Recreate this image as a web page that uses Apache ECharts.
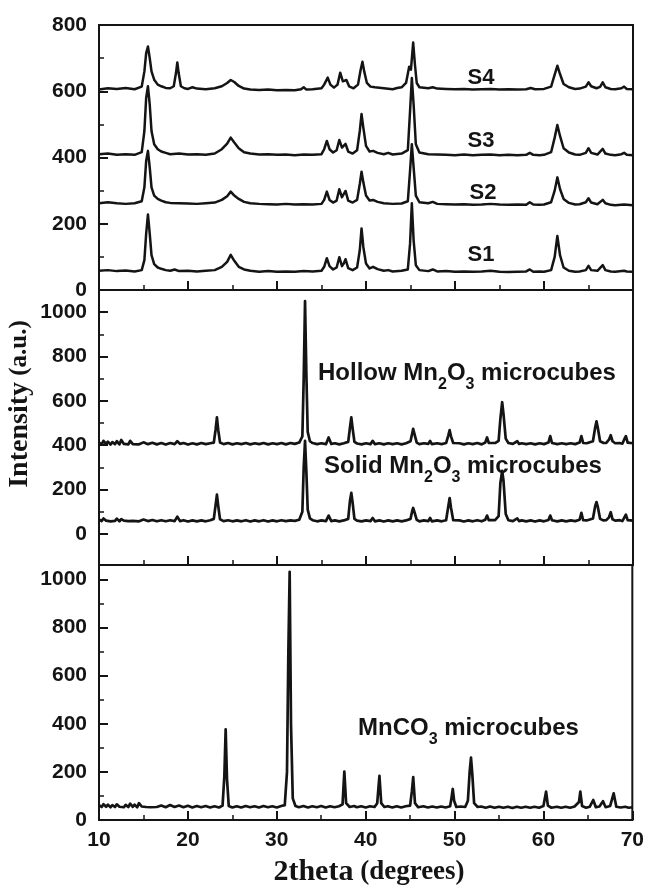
<!DOCTYPE html>
<html><head><meta charset="utf-8">
<script src="https://cdn.jsdelivr.net/npm/echarts@6/dist/echarts.min.js"></script>
<style>html,body{margin:0;padding:0;background:#fff}#c{width:647px;height:888px}</style>
</head><body><div id="c"></div>
<script>
// ---- data: [2theta, intensity] ----
const s1 = [[10,58],[11,60],[12,57],[13,59],[14,56],[14.8,60],[15.1,90],[15.3,170],[15.5,228],[15.7,170],[15.9,105],[16.2,78],[16.6,68],[17,64],[17.5,60],[18,58],[18.5,62],[19,57],[20,58],[21,56],[22,58],[23,60],[23.8,70],[24.4,85],[24.8,106],[25.2,88],[25.7,70],[26.3,62],[27,58],[28,55],[29,57],[30,55],[31,56],[32,55],[33,57],[34,56],[35,58],[35.3,70],[35.6,96],[35.9,72],[36.3,62],[36.7,68],[37.0,99],[37.3,72],[37.5,80],[37.7,93],[38.0,66],[38.5,60],[39.0,68],[39.3,120],[39.5,186],[39.7,130],[40.0,80],[40.4,65],[40.8,70],[41.0,74],[41.3,63],[42,58],[42.5,60],[43,56],[44,58],[44.7,62],[44.95,140],[45.15,262],[45.35,150],[45.6,75],[46,60],[47,57],[47.5,62],[48,56],[49,57],[50,55],[51,56],[52,55],[53,56],[54,58],[55,55],[56,54],[57,55],[58,56],[58.4,62],[58.8,55],[59.5,56],[60,55],[60.8,60],[61.2,100],[61.5,163],[61.8,105],[62.2,68],[62.8,58],[63.5,55],[64,56],[64.7,60],[65.0,73],[65.3,60],[66,58],[66.6,75],[66.9,60],[67.5,56],[68,55],[69,58],[69.3,56],[70,55]];
const s2 = [[10,262],[11,265],[12,262],[13,260],[14,262],[14.8,268],[15.1,310],[15.3,390],[15.5,420],[15.7,370],[15.9,310],[16.2,285],[16.6,275],[17,270],[17.5,265],[18,263],[19,262],[20,261],[21,260],[22,262],[23,264],[23.8,272],[24.4,283],[24.8,297],[25.2,285],[25.7,275],[26.3,266],[27,262],[28,260],[29,259],[30,258],[31,260],[32,258],[33,259],[34,258],[35,260],[35.3,272],[35.6,297],[35.9,272],[36.3,264],[36.7,270],[37.0,304],[37.3,280],[37.5,285],[37.7,299],[38.0,270],[38.5,264],[39.0,272],[39.3,320],[39.5,357],[39.7,325],[40.0,285],[40.4,270],[40.8,272],[41.0,277],[41.3,266],[42,262],[43,260],[44,261],[44.7,268],[44.95,360],[45.15,440],[45.35,370],[45.6,285],[46,265],[47,262],[47.5,266],[48,260],[49,259],[50,258],[51,259],[52,257],[53,258],[54,260],[55,258],[56,257],[57,258],[58,257],[58.4,265],[58.8,258],[59.5,257],[60,258],[60.8,265],[61.2,300],[61.5,340],[61.8,305],[62.2,275],[62.8,263],[63.5,258],[64,259],[64.7,265],[65.0,277],[65.3,264],[66,259],[66.6,272],[66.9,262],[67.5,257],[68,256],[69,258],[70,256]];
const s3 = [[10,410],[11,412],[12,408],[13,410],[14,408],[14.8,416],[15.1,480],[15.3,580],[15.5,615],[15.7,560],[15.9,480],[16.2,440],[16.6,425],[17,418],[17.5,414],[18,410],[19,412],[20,409],[21,410],[22,408],[23,412],[23.8,425],[24.4,442],[24.8,460],[25.2,445],[25.7,428],[26.3,416],[27,412],[28,409],[29,410],[30,408],[31,409],[32,407],[33,409],[34,408],[35,410],[35.3,425],[35.6,450],[35.9,425],[36.3,415],[36.7,422],[37.0,453],[37.3,430],[37.5,432],[37.7,441],[38.0,418],[38.5,412],[39.0,422],[39.3,480],[39.5,531],[39.7,490],[40.0,435],[40.4,418],[40.8,420],[41.0,423],[41.3,414],[42,410],[42.5,414],[43,409],[44,412],[44.7,422],[44.95,540],[45.15,640],[45.35,560],[45.6,440],[46,415],[47,410],[48,409],[49,408],[50,407],[51,409],[52,407],[53,408],[54,409],[55,407],[56,408],[57,407],[58,408],[58.4,414],[58.8,408],[59.5,407],[60,408],[60.8,416],[61.2,460],[61.5,498],[61.8,465],[62.2,428],[62.8,415],[63.5,409],[64,408],[64.7,414],[65.0,428],[65.3,414],[66,409],[66.6,426],[66.9,412],[67.5,408],[68,407],[68.7,410],[69,414],[69.3,408],[70,407]];
const s4 = [[10,605],[11,609],[12,607],[13,610],[14,606],[14.8,614],[15.1,660],[15.3,715],[15.5,735],[15.7,700],[15.9,660],[16.2,635],[16.6,620],[17,615],[17.5,610],[18,609],[18.4,615],[18.65,655],[18.8,687],[18.95,655],[19.2,615],[19.6,609],[20,607],[20.5,612],[21,608],[22,606],[23,609],[23.8,615],[24.4,625],[24.8,634],[25.2,628],[25.7,616],[26.3,608],[27,605],[28,604],[29,605],[30,603],[31,604],[32,603],[32.7,606],[33,612],[33.3,605],[34,606],[35,609],[35.3,620],[35.7,641],[36.0,620],[36.4,611],[36.8,620],[37.1,656],[37.4,630],[37.6,630],[37.8,634],[38.1,615],[38.6,609],[39.1,620],[39.4,665],[39.6,689],[39.8,660],[40.1,625],[40.5,614],[41,612],[42,609],[43,606],[43.5,610],[44,612],[44.5,625],[44.85,674],[45.05,665],[45.3,747],[45.5,680],[45.7,625],[46,612],[47,609],[47.5,612],[48,608],[49,607],[50,606],[51,607],[52,605],[53,606],[54,607],[55,605],[56,606],[57,605],[58,606],[58.5,610],[59,606],[60,607],[60.8,614],[61.2,650],[61.5,677],[61.8,652],[62.2,622],[62.8,612],[63.5,607],[64,608],[64.7,614],[65.0,627],[65.3,615],[65.9,609],[66.3,613],[66.6,627],[66.9,612],[67.5,607],[68,606],[68.7,609],[69.0,614],[69.3,607],[70,606]];
const hollow = [[10,412],[10.3,404],[10.5,420],[10.8,406],[11,416],[11.3,403],[11.5,414],[11.8,405],[12,418],[12.3,404],[12.5,424],[12.8,406],[13,415],[13.3,404],[13.5,420],[13.8,405],[14,412],[14.5,404],[15,413],[15.5,405],[16,411],[16.5,404],[17,410],[17.5,403],[18,410],[18.5,405],[18.8,418],[19.1,406],[19.5,410],[20,403],[20.5,409],[21,404],[21.5,410],[22,405],[22.5,409],[22.9,412],[23.1,470],[23.25,526],[23.4,468],[23.6,412],[24,405],[24.5,410],[25,404],[25.5,409],[26,405],[26.5,410],[27,404],[27.5,409],[28,405],[28.5,410],[29,404],[29.5,409],[30,405],[30.5,410],[31,404],[31.5,410],[32,406],[32.5,412],[32.85,440],[33.0,700],[33.15,1050],[33.3,720],[33.45,460],[33.7,418],[34,410],[34.5,405],[35,409],[35.5,405],[35.8,435],[36.1,406],[36.5,409],[37,404],[37.5,409],[38.0,415],[38.2,480],[38.35,526],[38.5,475],[38.7,415],[39,408],[39.5,404],[40,409],[40.5,405],[40.75,420],[41,405],[41.5,409],[42,404],[42.5,409],[43,405],[43.5,409],[44,404],[44.5,409],[45.0,418],[45.2,455],[45.3,474],[45.45,450],[45.7,412],[46,405],[46.5,409],[47,406],[47.2,420],[47.4,405],[48,409],[48.5,405],[49,410],[49.25,445],[49.4,468],[49.55,440],[49.8,410],[50,405],[50.5,409],[51,404],[51.5,409],[52,405],[52.5,410],[53,404],[53.4,412],[53.6,435],[53.8,410],[54,406],[54.5,410],[54.9,420],[55.1,520],[55.3,594],[55.45,540],[55.7,430],[56,410],[56.5,406],[57.0,418],[57.2,406],[57.5,409],[58,405],[58.5,409],[59,404],[59.5,409],[60,405],[60.5,412],[60.7,441],[60.9,410],[61.5,405],[62,409],[62.5,405],[63,409],[63.5,405],[64,412],[64.2,441],[64.4,410],[64.8,409],[65.5,418],[65.75,480],[65.9,508],[66.05,478],[66.3,418],[66.7,410],[67,411],[67.3,425],[67.5,445],[67.7,418],[68,409],[68.5,410],[68.8,407],[69.0,425],[69.2,441],[69.4,412],[70,409]];
const solid = [[10,65],[10.3,58],[10.5,70],[10.8,60],[11,68],[11.3,57],[11.5,66],[11.8,59],[12,69],[12.3,57],[12.5,67],[12.8,60],[13,66],[13.3,58],[13.5,67],[13.8,59],[14,64],[14.5,57],[15,65],[15.5,58],[16,63],[16.5,57],[17,62],[17.5,57],[18,62],[18.5,58],[18.8,78],[19.1,58],[19.5,62],[20,56],[20.5,61],[21,57],[21.5,61],[22,57],[22.5,62],[22.9,68],[23.1,130],[23.25,177],[23.4,125],[23.6,66],[24,58],[24.5,62],[25,57],[25.5,61],[26,57],[26.5,62],[27,56],[27.5,61],[28,57],[28.5,62],[29,56],[29.5,61],[30,57],[30.5,62],[31,58],[31.5,61],[32,59],[32.5,64],[32.85,100],[33.0,300],[33.15,420],[33.3,280],[33.45,110],[33.7,70],[34,62],[34.5,57],[35,61],[35.5,58],[35.8,83],[36.1,58],[36.5,61],[37,57],[37.5,61],[38.0,68],[38.2,150],[38.35,185],[38.5,140],[38.7,68],[39,60],[39.5,57],[40,61],[40.5,58],[40.75,72],[41,57],[41.5,61],[42,56],[42.5,61],[43,57],[43.5,61],[44,57],[44.5,61],[45.0,68],[45.2,105],[45.3,117],[45.45,98],[45.7,64],[46,57],[46.5,61],[47,58],[47.2,72],[47.4,57],[48,61],[48.5,57],[49,62],[49.25,125],[49.4,162],[49.55,118],[49.8,62],[50,57],[50.5,61],[51,56],[51.5,61],[52,57],[52.5,62],[53,57],[53.4,64],[53.6,83],[53.8,62],[54,58],[54.5,62],[54.9,80],[55.1,230],[55.3,285],[55.45,240],[55.7,90],[56,62],[56.5,58],[57.0,70],[57.2,58],[57.5,61],[58,57],[58.5,61],[59,56],[59.5,61],[60,57],[60.5,63],[60.7,83],[60.9,62],[61.5,57],[62,61],[62.5,57],[63,61],[63.5,58],[64,64],[64.2,95],[64.4,62],[64.8,61],[65.5,70],[65.75,125],[65.9,144],[66.05,122],[66.3,68],[66.7,61],[67,62],[67.3,75],[67.5,98],[67.7,66],[68,60],[68.5,62],[68.8,58],[69.0,72],[69.2,87],[69.4,62],[70,60]];
const mnco3 = [[10,62],[10.3,54],[10.5,66],[10.8,55],[11,64],[11.3,53],[11.5,62],[11.8,54],[12,65],[12.3,55],[12.5,61],[12.8,53],[13,63],[13.3,54],[13.5,68],[13.8,55],[14,64],[14.3,53],[14.5,70],[14.8,56],[15,62],[15.3,54],[15.5,60],[15.8,53],[16,61],[16.5,54],[17,60],[17.5,53],[18,62],[18.5,54],[19,60],[19.5,53],[20,59],[20.5,52],[21,58],[21.5,53],[22,58],[22.5,52],[23,57],[23.5,52],[23.9,60],[24.1,180],[24.25,377],[24.4,170],[24.6,58],[25,52],[25.5,57],[26,52],[26.5,58],[27,53],[27.5,57],[28,52],[28.5,58],[29,53],[29.5,57],[30,52],[30.5,58],[30.9,62],[31.15,200],[31.3,690],[31.45,1032],[31.6,400],[31.8,90],[32.1,58],[32.5,53],[33,58],[33.5,52],[34,57],[34.5,53],[35,58],[35.5,52],[36,57],[36.5,53],[37,57],[37.4,65],[37.6,201],[37.8,70],[38.2,54],[38.7,58],[39,53],[39.5,57],[40,52],[40.5,57],[41,54],[41.3,70],[41.55,184],[41.75,70],[42.1,54],[42.5,57],[43,52],[43.5,57],[44,52],[44.5,57],[45,60],[45.2,120],[45.35,178],[45.55,70],[45.9,53],[46.5,57],[47,52],[47.5,56],[48,52],[48.5,56],[49,52],[49.5,57],[49.65,90],[49.8,129],[49.95,80],[50.2,54],[50.7,56],[51.2,54],[51.5,80],[51.7,200],[51.85,259],[52.0,190],[52.2,70],[52.6,54],[53,56],[53.5,51],[54,56],[54.5,51],[55,55],[55.5,51],[56,55],[56.5,50],[57,55],[57.5,51],[58,55],[58.5,51],[59,55],[59.5,51],[60,58],[60.3,118],[60.5,60],[60.9,51],[61.5,55],[62,51],[62.5,55],[63,51],[63.5,56],[64.0,75],[64.15,118],[64.35,58],[64.8,51],[65.2,55],[65.6,83],[65.9,53],[66.3,56],[66.7,78],[67.0,53],[67.5,58],[67.9,111],[68.2,55],[68.7,52],[69.2,55],[69.6,51],[70,53]];

// ---- tick labels ----
const topLabels = [0, 200, 400, 600, 800];
const lowerLabels = [0, 200, 400, 600, 800, 1000];
const lowerMinor = [100, 300, 500, 700, 900];
const topNames = ['S1', 'S2', 'S3', 'S4'];

const ink = '#141414';
const sansBold = {fontFamily: 'Arial, "Liberation Sans", sans-serif', fontWeight: 'bold', fontSize: 21, color: ink, formatter: v => String(v)};
const serif = '"Times New Roman", "Liberation Serif", serif';

const grids = [
  {left: 99, top: 25, width: 534, height: 265},
  {left: 99, top: 290, width: 534, height: 275},
  {left: 99, top: 565, width: 534, height: 255}
].map(g => Object.assign(g, {show: true, borderColor: ink, borderWidth: 2, backgroundColor: 'transparent'}));

function xAx(i, showLabel) {
  return {
    type: 'value', gridIndex: i, min: 10, max: 70, interval: 10,
    axisLine: {show: true, onZero: false, lineStyle: {color: ink, width: 2}},
    axisTick: {show: true, inside: true, length: 9, lineStyle: {color: ink, width: 2}},
    minorTick: {show: true, splitNumber: 2, length: 5, lineStyle: {color: ink, width: 1.5}},
    splitLine: {show: false},
    axisLabel: Object.assign({show: showLabel, margin: 10}, sansBold)
  };
}
const yBase = {
  type: 'value', position: 'left',
  axisLine: {show: true, onZero: false, lineStyle: {color: ink, width: 2}},
  axisTick: {show: true, inside: true, length: 9, lineStyle: {color: ink, width: 2}},
  splitLine: {show: false},
  axisLabel: Object.assign({margin: 12}, sansBold)
};
const yAxes = [
  Object.assign({}, yBase, {gridIndex: 0, min: 0, max: 800, interval: 200,
    minorTick: {show: true, splitNumber: 2, length: 5, lineStyle: {color: ink, width: 1.5}}}),
  Object.assign({}, yBase, {gridIndex: 1, min: -140, max: 1100,
    axisTick: Object.assign({}, yBase.axisTick, {customValues: lowerLabels}),
    axisLabel: Object.assign({}, yBase.axisLabel, {customValues: lowerLabels})}),
  Object.assign({}, yBase, {gridIndex: 2, min: 0, max: 1060,
    axisTick: Object.assign({}, yBase.axisTick, {customValues: lowerLabels}),
    axisLabel: Object.assign({}, yBase.axisLabel, {customValues: lowerLabels})}),
  {type: 'value', gridIndex: 1, min: -140, max: 1100, position: 'left', axisLine: {show: false},
    axisTick: {show: true, inside: true, length: 5, customValues: lowerMinor, lineStyle: {color: ink, width: 1.5}},
    axisLabel: {show: false}, splitLine: {show: false}},
  {type: 'value', gridIndex: 2, min: 0, max: 1060, position: 'left', axisLine: {show: false},
    axisTick: {show: true, inside: true, length: 5, customValues: lowerMinor, lineStyle: {color: ink, width: 1.5}},
    axisLabel: {show: false}, splitLine: {show: false}}
];

function line(name, data, gi, w) {
  return {name: name, type: 'line', data: data, xAxisIndex: gi, yAxisIndex: gi,
    showSymbol: false, symbol: 'none', smooth: false, silent: true,
    lineStyle: {color: ink, width: w, join: 'round'}};
}

const labelFont = {font: 'bold 22px Arial, "Liberation Sans", sans-serif', fill: ink, textAlign: 'center', textVerticalAlign: 'middle'};
const richMain = {fontSize: 24, fontWeight: 'bold', fontFamily: 'Arial, "Liberation Sans", sans-serif', lineHeight: 40, fill: ink, color: ink};
const richSub = {fontSize: 16, fontWeight: 'bold', fontFamily: 'Arial, "Liberation Sans", sans-serif', lineHeight: 16, verticalAlign: 'bottom', fill: ink, color: ink};
function compound(x, y, txt) {
  return {type: 'text', x: x, y: y, silent: true, style: {text: txt, textAlign: 'left', textVerticalAlign: 'middle', rich: {a: richMain, s: richSub}}};
}
const sLabelPos = [[481, 255], [483, 193], [481, 141], [481, 78]];

const graphics = topNames.map((n, i) => ({type: 'text', x: sLabelPos[i][0], y: sLabelPos[i][1], silent: true, style: Object.assign({text: n}, labelFont)}));
graphics.push(compound(318, 373, '{a|Hollow Mn}{s|2}{a|O}{s|3}{a| microcubes}'));
graphics.push(compound(324, 466, '{a|Solid Mn}{s|2}{a|O}{s|3}{a| microcubes}'));
graphics.push(compound(358, 728, '{a|MnCO}{s|3}{a| microcubes}'));
graphics.push({type: 'text', x: 20, y: 404, rotation: Math.PI / 2, silent: true,
  style: {text: '{b|Intensity}{c| (a.u.)}', textAlign: 'center', textVerticalAlign: 'middle',
    rich: {b: {fontSize: 28, fontWeight: 'bold', fontFamily: serif, fill: ink, color: ink},
           c: {fontSize: 25, fontWeight: 'bold', fontFamily: serif, fill: ink, color: ink}}}});
graphics.push({type: 'text', x: 369, y: 872, silent: true,
  style: {text: '{b|2theta}{c| (degrees)}', textAlign: 'center', textVerticalAlign: 'middle',
    rich: {b: {fontSize: 30, fontWeight: 'bold', fontFamily: serif, fill: ink, color: ink},
           c: {fontSize: 27, fontWeight: 'bold', fontFamily: serif, fill: ink, color: ink}}}});

const chart = echarts.init(document.getElementById('c'), null, {renderer: 'canvas'});
chart.setOption({
  animation: false,
  backgroundColor: '#ffffff',
  grid: grids,
  xAxis: [xAx(0, false), xAx(1, false), xAx(2, true)],
  yAxis: yAxes,
  series: [
    line('S1', s1, 0, 2.5), line('S2', s2, 0, 2.5), line('S3', s3, 0, 2.5), line('S4', s4, 0, 2.5),
    line('Solid Mn2O3 microcubes', solid, 1, 2.7), line('Hollow Mn2O3 microcubes', hollow, 1, 2.7),
    line('MnCO3 microcubes', mnco3, 2, 2.7)
  ],
  graphic: graphics
});
</script>
</body></html>
